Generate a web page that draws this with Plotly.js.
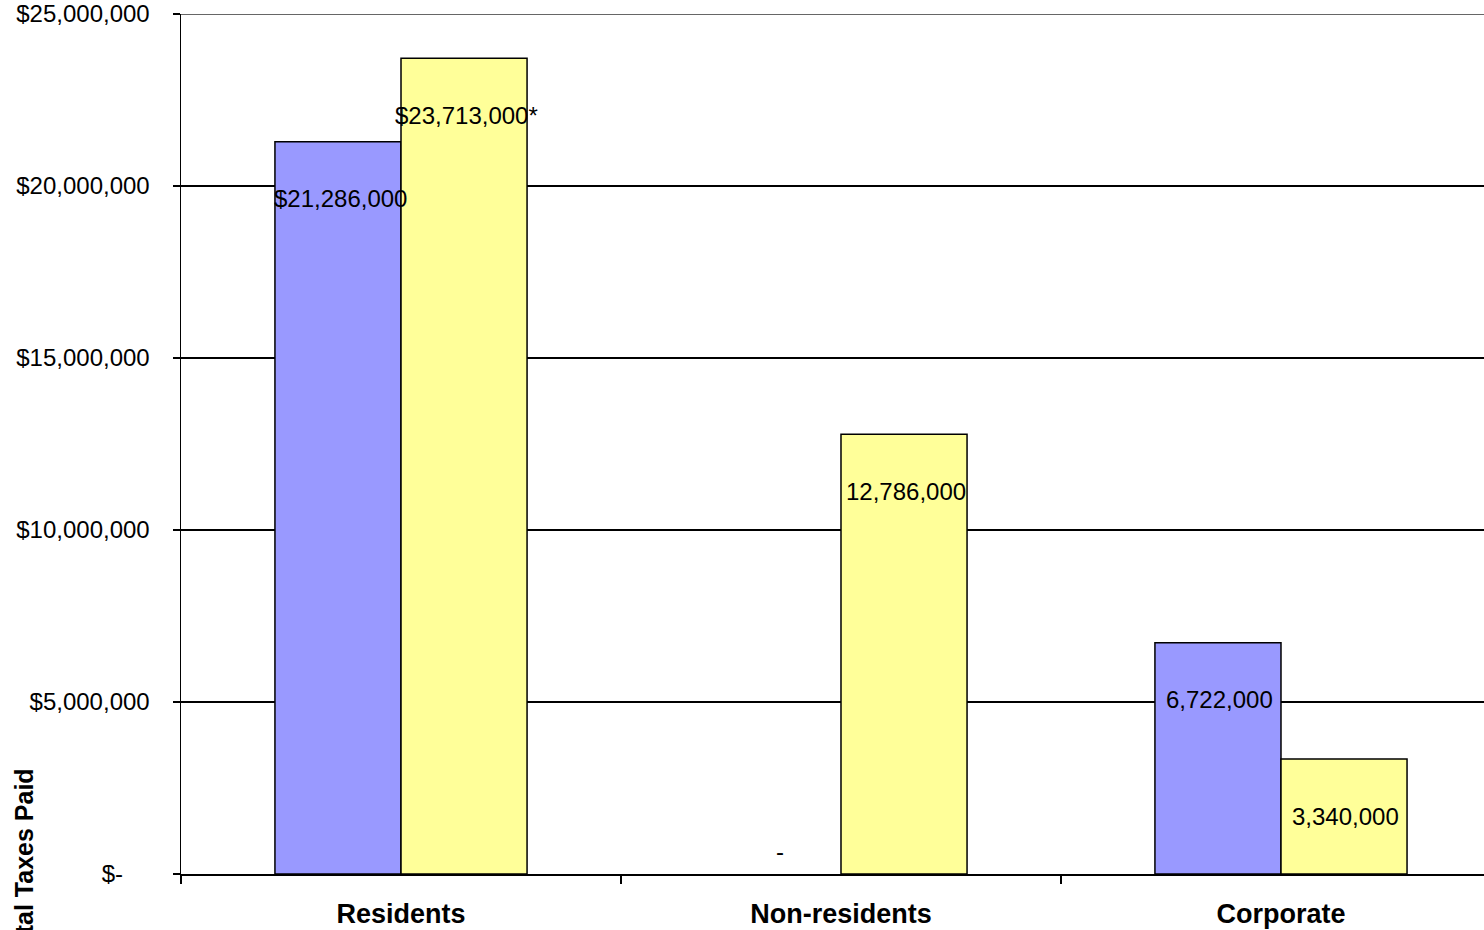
<!DOCTYPE html>
<html>
<head>
<meta charset="utf-8">
<script src="https://cdn.plot.ly/plotly-3.0.1.min.js"></script>
<style>
  html, body { margin: 0; padding: 0; background: #fff; }
  #chart { width: 1484px; height: 930px; }
</style>
</head>
<body>
<div id="chart"></div>
<script>
// Taxes paid by taxpayer group, two series per group
const categories = ['Residents', 'Non-residents', 'Corporate'];
const seriesBlue = [21286000, 0, 6722000];
const seriesYellow = [23713000, 12786000, 3340000];

// Extra text around the value labels
const prefixBlue = ['$', '', ''];
const prefixYellow = ['$', '', ''];
const suffixBlue = ['', '', ''];
const suffixYellow = ['*', '', ''];

// Value axis ticks
const yTickVals = [0, 5000000, 10000000, 15000000, 20000000, 25000000];

function groupDigits(v) {
  return String(Math.round(v)).replace(/\B(?=(\d{3})+(?!\d))/g, ',');
}
function valueLabel(v, pre, suf) {
  return v === 0 ? '-' : pre + groupDigits(v) + suf;
}
const NBSP = '\u00a0';
const yTickText = yTickVals.map(v => v === 0 ? '$-' + NBSP.repeat(4) : '$' + groupDigits(v));

const FONT = '"Liberation Sans", Arial, Helvetica, sans-serif';

// zero-height bars get no outline
const outlineWidths = vals => vals.map(v => (v === 0 ? 0 : 1.5));

const traces = [
  {
    type: 'bar', name: 'Blue', x: categories, y: seriesBlue,
    marker: { color: '#9999FF', line: { color: '#000000', width: outlineWidths(seriesBlue) } },
    hoverinfo: 'none'
  },
  {
    type: 'bar', name: 'Yellow', x: categories, y: seriesYellow,
    marker: { color: '#FFFF99', line: { color: '#000000', width: outlineWidths(seriesYellow) } },
    hoverinfo: 'none'
  }
];

// Value labels sit just inside the top of each bar; a zero bar gets a dash above the baseline
const annotations = [];
function addLabels(values, pres, sufs, dx) {
  values.forEach((v, i) => {
    annotations.push({
      xref: 'x', yref: 'y', x: categories[i], y: v,
      xshift: dx, yshift: v === 0 ? 23 : -57,
      text: valueLabel(v, pres[i], sufs[i]),
      showarrow: false, xanchor: 'center', yanchor: 'middle',
      font: { family: FONT, size: 24, color: '#000000' }
    });
  });
}
addLabels(seriesBlue, prefixBlue, suffixBlue, -61);
addLabels(seriesYellow, prefixYellow, suffixYellow, 65);

// Axis title, running up the left edge
annotations.push({
  xref: 'paper', yref: 'paper', x: -0.1205, y: 0.0105,
  text: 'Total Taxes Paid', textangle: -90, showarrow: false,
  xanchor: 'center', yanchor: 'middle',
  font: { family: FONT, size: 25, color: '#000000', weight: 'bold' }
});

const yTop = yTickVals[yTickVals.length - 1];

const layout = {
  width: 1484, height: 930,
  margin: { l: 181, r: 0, t: 14, b: 56, pad: 0 },
  paper_bgcolor: '#ffffff', plot_bgcolor: '#ffffff',
  showlegend: false,
  barmode: 'group', bargap: 0.427, bargroupgap: 0,
  font: { family: FONT, color: '#000000' },
  xaxis: {
    type: 'category', range: [-0.5, 2.4614],
    tickson: 'boundaries', ticks: 'outside', ticklen: 8, tickwidth: 1.5, tickcolor: '#000000',
    showline: true, linecolor: '#000000', linewidth: 1.5,
    showgrid: false, zeroline: false,
    tickfont: { family: FONT, size: 27, color: '#000000', weight: 'bold' },
    ticklabelstandoff: 15,
    fixedrange: true
  },
  yaxis: {
    range: [0, yTop],
    tickmode: 'array', tickvals: yTickVals, ticktext: yTickText,
    ticks: 'outside', ticklen: 7, tickwidth: 1.5, tickcolor: '#000000',
    showline: true, linecolor: '#000000', linewidth: 1.5,
    showgrid: true, gridcolor: '#000000', gridwidth: 1.2,
    zeroline: false,
    tickfont: { family: FONT, size: 24, color: '#000000' },
    ticklabelstandoff: 18,
    fixedrange: true
  },
  // top gridline along the upper edge of the plot
  shapes: [{
    type: 'line', xref: 'paper', x0: 0, x1: 1, yref: 'y', y0: yTop, y1: yTop,
    line: { color: '#666666', width: 2 }, layer: 'below'
  }],
  annotations: annotations
};

Plotly.newPlot('chart', traces, layout, { displayModeBar: false, staticPlot: true });
</script>
</body>
</html>
